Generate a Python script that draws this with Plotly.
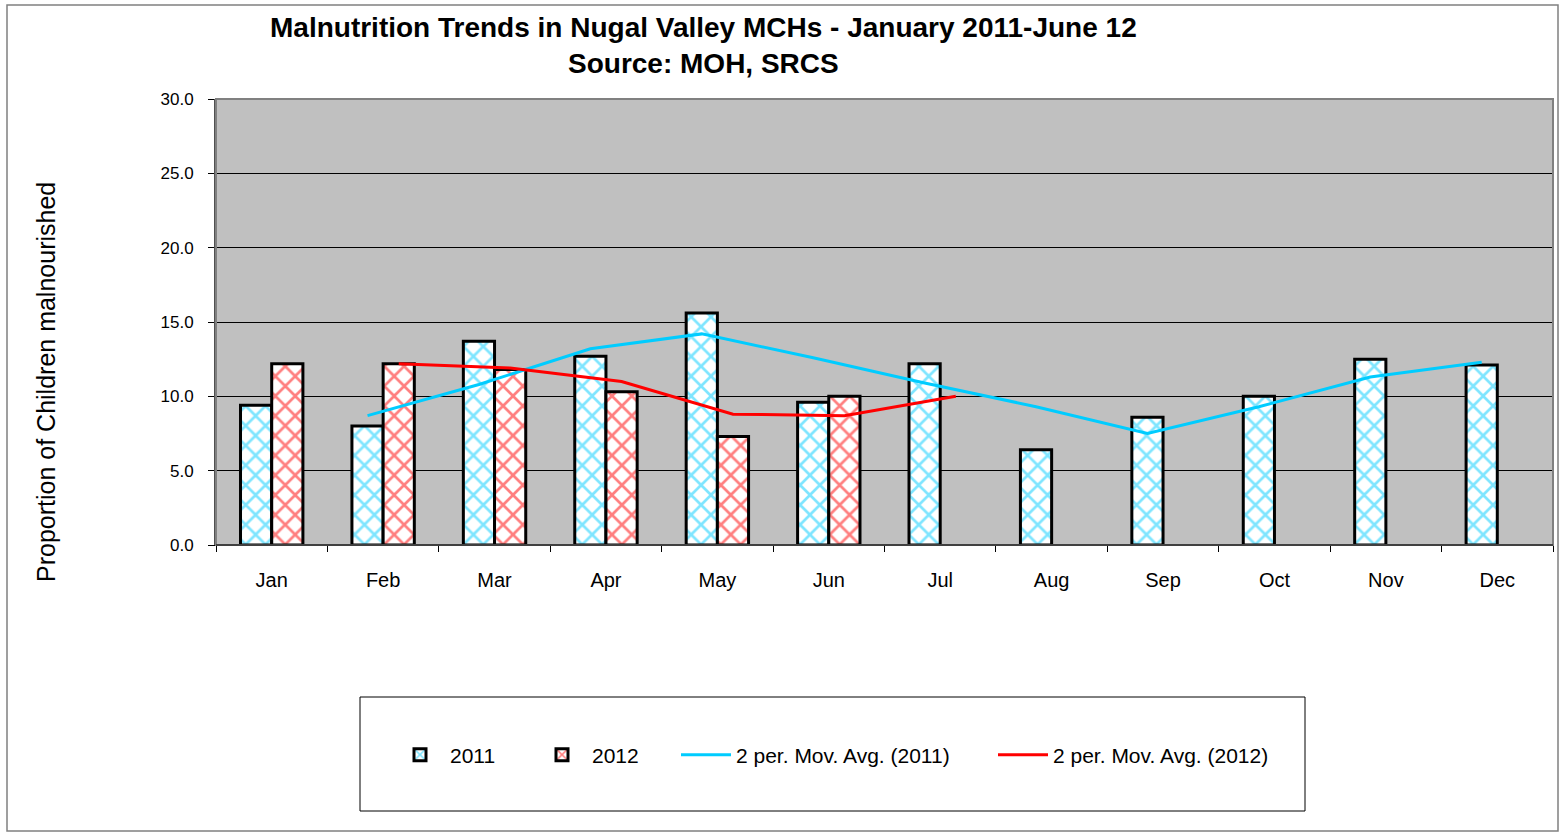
import plotly.graph_objects as go

months = ["Jan", "Feb", "Mar", "Apr", "May", "Jun", "Jul", "Aug", "Sep", "Oct", "Nov", "Dec"]
vals_2011 = [9.4, 8.0, 13.7, 12.7, 15.6, 9.6, 12.2, 6.4, 8.6, 10.0, 12.5, 12.1]
vals_2012 = [12.2, 12.2, 11.8, 10.3, 7.3, 10.0]
ma_months_2011 = ["Feb", "Mar", "Apr", "May", "Jun", "Jul", "Aug", "Sep", "Oct", "Nov", "Dec"]
ma_2011 = [8.7, 10.8, 13.2, 14.2, 12.6, 10.9, 9.3, 7.5, 9.3, 11.3, 12.3]
ma_months_2012 = ["Feb", "Mar", "Apr", "May", "Jun", "Jul"]
ma_2012 = [12.2, 11.9, 11.0, 8.8, 8.7, 10.0]
y_ticks = [0, 5, 10, 15, 20, 25, 30]

FONT = "Liberation Sans, Arial, sans-serif"
BLUE = "#00CCFF"
RED = "#FF0000"
BW = 0.28  # bar width in category units

idx = {m: i for i, m in enumerate(months)}

fig = go.Figure()
fig.add_trace(go.Bar(
    name="2011", x=[idx[m] for m in months], y=vals_2011,
    width=BW, offset=-BW, legend="legend",
    marker=dict(color="white", line=dict(color="black", width=3),
                pattern=dict(shape="x", fgcolor=BLUE, bgcolor="white", size=14, solidity=0.35)),
))
fig.add_trace(go.Bar(
    name="2012", x=[idx[m] for m in months[:len(vals_2012)]], y=vals_2012,
    width=BW, offset=0, legend="legend2",
    marker=dict(color="white", line=dict(color="black", width=3),
                pattern=dict(shape="x", fgcolor=RED, bgcolor="white", size=14, solidity=0.35)),
))
fig.add_trace(go.Scatter(
    name="2 per. Mov. Avg. (2011)", x=[idx[m] - BW / 2 for m in ma_months_2011], y=ma_2011,
    mode="lines", line=dict(color=BLUE, width=3), legend="legend3",
))
fig.add_trace(go.Scatter(
    name="2 per. Mov. Avg. (2012)", x=[idx[m] + BW / 2 for m in ma_months_2012], y=ma_2012,
    mode="lines", line=dict(color=RED, width=3), legend="legend4",
))

W, H = 1562, 836
L, R, T, B = 216, 9, 99, 291
pw, ph = W - L - R, H - T - B


def px(xpix):
    return (xpix - L) / pw


def py(ypix):
    return (H - B - ypix) / ph


def leg(text_start):
    return dict(
        orientation="h", x=px(text_start - 62), xanchor="left", y=py(755), yanchor="middle",
        font=dict(size=21, family=FONT, color="black"),
        bgcolor="rgba(0,0,0,0)", itemwidth=50,
    )


fig.update_layout(
    width=W, height=H,
    margin=dict(l=L, r=R, t=T, b=B),
    paper_bgcolor="white", plot_bgcolor="#C0C0C0",
    font=dict(family=FONT, color="black"),
    barmode="overlay",
    xaxis=dict(
        range=[-0.5, len(months) - 0.5],
        tickvals=list(range(len(months))), ticktext=months,
        ticks="", showgrid=False, zeroline=False,
        showline=True, linecolor="black", linewidth=1,
        tickfont=dict(size=20, family=FONT, color="black"),
        ticklabelstandoff=17,
        minor=dict(tickvals=[i - 0.5 for i in range(len(months) + 1)], ticks="outside",
                   ticklen=6, tickcolor="black", tickwidth=1, showgrid=False),
    ),
    yaxis=dict(
        range=[0, 30], tickvals=y_ticks, tickformat=".1f",
        ticks="outside", ticklen=6, tickcolor="black", tickwidth=1,
        showgrid=True, gridcolor="black", gridwidth=1,
        zeroline=False, showline=True, linecolor="#505050", linewidth=2,
        tickfont=dict(size=17, family=FONT, color="black"),
        ticklabelstandoff=11,
    ),
    legend=leg(452),
    legend2=leg(594),
    legend3=leg(738),
    legend4=leg(1055),
    showlegend=True,
    annotations=[
        dict(
            text="<b>Malnutrition Trends in Nugal Valley MCHs - January 2011-June 12<br>Source: MOH, SRCS</b>",
            xref="paper", yref="paper", x=px(703), y=py(45), xanchor="center", yanchor="middle",
            showarrow=False, font=dict(size=28, family=FONT, color="black"),
        ),
        dict(
            text="Proportion of Children malnourished", textangle=-90,
            xref="paper", yref="paper", x=px(46), y=py(382), xanchor="center", yanchor="middle",
            showarrow=False, font=dict(size=25, family=FONT, color="black"),
        ),
    ],
    shapes=[
        dict(type="rect", xref="paper", yref="paper", x0=0, x1=1, y0=0, y1=1,
             line=dict(color="#808080", width=2), layer="above"),
        dict(type="line", xref="paper", yref="paper", x0=0, x1=1, y0=0, y1=0,
             line=dict(color="black", width=1), layer="above"),
        dict(type="rect", xref="paper", yref="paper", x0=px(360), x1=px(1305), y0=py(811), y1=py(697),
             line=dict(color="black", width=1)),
        dict(type="rect", xref="paper", yref="paper", x0=px(7), x1=px(1558), y0=py(831), y1=py(5),
             line=dict(color="#808080", width=1.5)),
    ],
)

fig.write_html(
    "out.html",
    config={"displayModeBar": False},
    post_script="document.body.style.margin='0';document.body.style.overflow='hidden';",
)
